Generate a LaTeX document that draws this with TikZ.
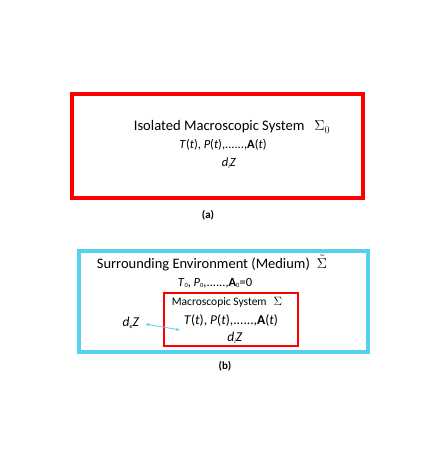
\documentclass[tikz,border=0pt]{standalone}
\usepackage{fontspec}
\setmainfont{Carlito}
\usetikzlibrary{arrows.meta}

\definecolor{boxred}{RGB}{255,0,0}
\definecolor{envcyan}{RGB}{85,208,240}
\definecolor{flowcyan}{RGB}{95,200,240}
\newcommand{\tinysub}[1]{\raisebox{-0.3ex}{\fontsize{6.5}{7}\selectfont #1}}

\begin{document}
\begin{tikzpicture}[
    x=1pt, y=-1pt,
    >=Stealth,
    txt/.style={inner sep=0pt, anchor=center},
    frame/.style={draw, line width=3.5pt}
]
    \useasboundingbox (0,0) rectangle (439,460);

    % (a) isolated system
    \draw[frame, boxred] (72,94) rectangle (363,198);
    \node[txt, font=\fontsize{14.6}{16}\selectfont] (isotitle) at (232,127) {Isolated Macroscopic System\hspace{10pt}$\Sigma_0$};
    \node[txt, font=\fontsize{12.5}{14}\selectfont] (isostate) at (223,145) {\textit{T}(\textit{t}), \textit{P}(\textit{t}),......,\textbf{A}(\textit{t})};
    \node[txt, font=\fontsize{12.5}{14}\selectfont] (isodiz) at (229,163) {\textit{d}\tinysub{\textit{i}}\textit{Z}};
    \node[txt, font=\bfseries\fontsize{11}{13}\selectfont] (capa) at (208,215) {(a)};

    % (b) system in a medium
    \draw[frame, envcyan] (79,251) rectangle (368,352);
    \node[txt, font=\fontsize{14.5}{17}\selectfont] (envtitle) at (212,263) {Surrounding Environment (Medium)\hspace{7pt}$\tilde{\Sigma}$};
    \node[txt, font=\fontsize{12.5}{14}\selectfont] (envstate) at (215,283) {\textit{T}\tinysub{0}, \textit{P}\tinysub{0},......,\textbf{A}\tinysub{0}=0};
    \draw[boxred, line width=2pt] (164,293) rectangle (298,346);
    \node[txt, font=\fontsize{11.5}{13}\selectfont] (systitle) at (227,302) {Macroscopic System\hspace{7pt}$\Sigma$};
    \node[txt, font=\fontsize{13.5}{15}\selectfont] (sysstate) at (231,320) {\textit{T}(\textit{t}), \textit{P}(\textit{t}),......,\textbf{A}(\textit{t})};
    \node[txt, font=\fontsize{13.5}{15}\selectfont] (sysdiz) at (235,338) {\textit{d}\tinysub{\textit{i}}\textit{Z}};
    \node[txt, font=\fontsize{13.5}{15}\selectfont] (sysdez) at (131,323) {\textit{d}\tinysub{\textit{e}}\textit{Z}};
    \coordinate (flowin) at (180,330);
    \draw[<->, flowcyan, line width=0.8pt, shorten <=6pt, >={Stealth[length=4pt,width=3pt]}] (sysdez.east) -- (flowin);
    \node[txt, font=\bfseries\fontsize{11}{13}\selectfont] (capb) at (225,366) {(b)};
\end{tikzpicture}
\end{document}
